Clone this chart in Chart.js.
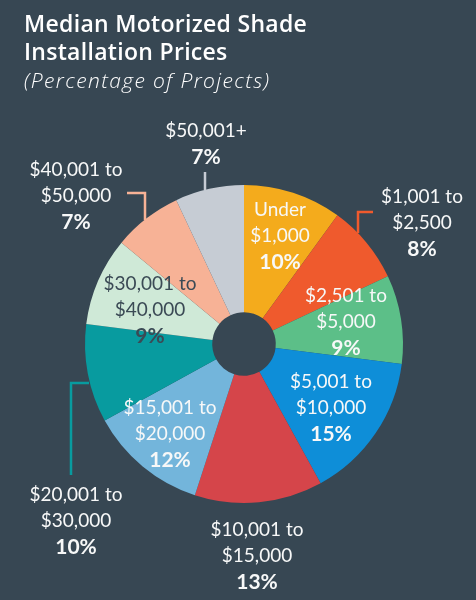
<!DOCTYPE html>
<html>
<head>
<meta charset="utf-8">
<script src="https://cdn.jsdelivr.net/npm/chart.js@4"></script>
<style>
    body { margin: 0; background: #374753; }
    #wrap { position: relative; width: 476px; height: 600px; overflow: hidden; }
    #graph-shade-prices { position: absolute; left: 0; top: 0; }
    .title { position: absolute; left: 24px; color: #ffffff; font-family: 'Open Sans', sans-serif; }
    #title-main { top: 9px; font-size: 23px; font-weight: 600; line-height: 28px; letter-spacing: 0.3px; }
    #title-sub { top: 66px; font-size: 21px; font-style: italic; font-weight: 300; line-height: 28px; letter-spacing: 1.4px; }
</style>
</head>
<body>
<div id="wrap">
    <canvas id="graph-shade-prices" width="476" height="600"></canvas>
    <div class="title" id="title-main">Median Motorized Shade<br>Installation Prices</div>
    <div class="title" id="title-sub">(Percentage of Projects)</div>
</div>
<script>
const categories = ['Under $1,000', '$1,001 to $2,500', '$2,501 to $5,000', '$5,001 to $10,000',
    '$10,001 to $15,000', '$15,001 to $20,000', '$20,001 to $30,000', '$30,001 to $40,000',
    '$40,001 to $50,000', '$50,001+'];
const shares = [10, 8, 9, 15, 13, 12, 10, 9, 7, 7];
const sliceColors = ['#f4ab1c', '#ef5a2d', '#5cbf88', '#0e8ed8', '#d5454a',
    '#73b5db', '#089b9f', '#cfe9d7', '#f7b296', '#c6ccd4'];

// label placement, offset of the first text line from the pie centre
const labelOffsets = [[36, -134], [178, -147], [102, -48], [87, 38], [13, 186],
    [-74, 64], [-168, 151], [-94, -60], [-168, -174], [-38, -213]];
// leader lines for the labels that sit outside the pie
const leaders = {
    1: [[129, -132], [114, -132], [114, -111]],
    6: [[-173, 131], [-173, 39], [-155, 39]],
    8: [[-117, -151], [-99, -151], [-99, -124]],
    9: [[-39, -172], [-39, -154]]
};

function splitCategory(name) {
    if (name.startsWith('Under ')) {
        return ['Under', name.slice(6)];
    }
    const parts = name.split(' to ');
    if (parts.length === 2) {
        return [parts[0] + ' to', parts[1]];
    }
    return [name];
}

const sliceLabels = {
    id: 'sliceLabels',
    afterDatasetsDraw(chart) {
        const ctx = chart.ctx;
        const arcs = chart.getDatasetMeta(0).data;
        const cx = arcs[0].x;
        const cy = arcs[0].y;

        ctx.save();
        ctx.lineWidth = 2.5;
        Object.keys(leaders).forEach(key => {
            const points = leaders[key];
            ctx.strokeStyle = sliceColors[key];
            ctx.beginPath();
            points.forEach((p, i) => {
                if (i === 0) {
                    ctx.moveTo(cx + p[0], cy + p[1]);
                } else {
                    ctx.lineTo(cx + p[0], cy + p[1]);
                }
            });
            ctx.stroke();
        });

        ctx.textAlign = 'center';
        ctx.textBaseline = 'middle';
        categories.forEach((name, i) => {
            const lines = splitCategory(name);
            const x = cx + labelOffsets[i][0];
            let y = cy + labelOffsets[i][1];
            ctx.fillStyle = i === 7 ? '#3b4a55' : '#f7f8f8';
            ctx.font = '400 19px Lato';
            lines.forEach(line => {
                ctx.fillText(line, x, y);
                y += 26;
            });
            ctx.font = '700 21px Lato';
            ctx.fillText(shares[i] + '%', x, y);
        });
        ctx.restore();
    }
};

const config = {
    type: 'doughnut',
    data: {
        labels: categories,
        datasets: [{
            data: shares,
            backgroundColor: sliceColors,
            borderWidth: 0
        }]
    },
    options: {
        responsive: false,
        animation: false,
        cutout: '20%',
        layout: {
            padding: {left: 85, right: 73, top: 185, bottom: 97}
        },
        plugins: {
            legend: {display: false},
            tooltip: {enabled: false}
        }
    },
    plugins: [sliceLabels]
};

new Chart(document.getElementById('graph-shade-prices'), config);
</script>
</body>
</html>
